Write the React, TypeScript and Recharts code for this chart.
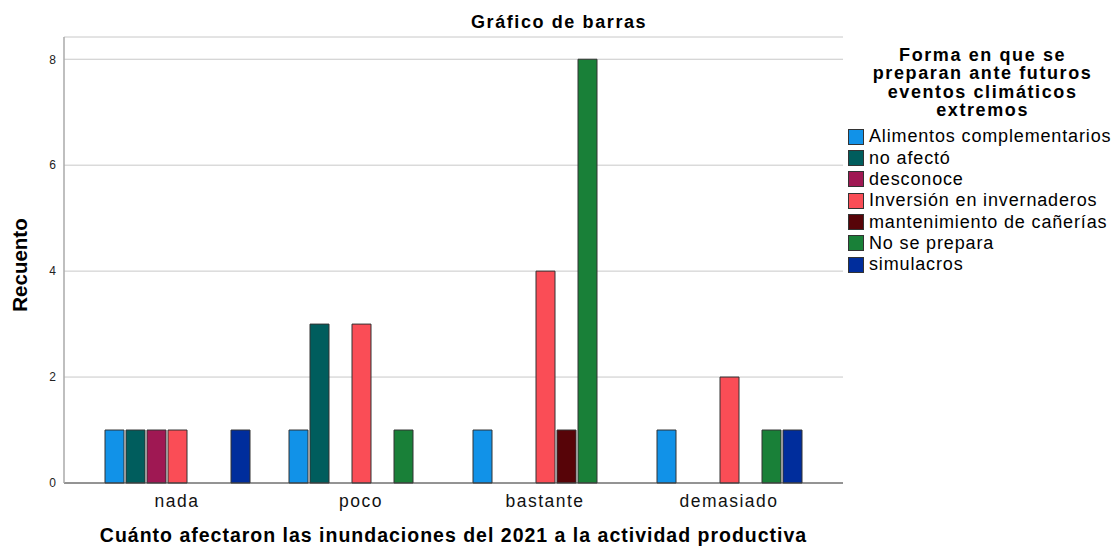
import React from 'react';
import { BarChart, Bar, XAxis, YAxis, CartesianGrid, Legend } from 'recharts';

const categories = ['nada', 'poco', 'bastante', 'demasiado'];
const seriesNames = [
  'Alimentos complementarios',
  'no afectó',
  'desconoce',
  'Inversión en invernaderos',
  'mantenimiento de cañerías',
  'No se prepara',
  'simulacros',
];
const seriesColors = ['#1192e8', '#005d5d', '#9f1853', '#fa4d56', '#570408', '#198038', '#002d9c'];
const alimentos = [1, 1, 1, 1];
const noAfecto = [1, 3, 0, 0];
const desconoce = [1, 0, 0, 0];
const inversion = [1, 3, 4, 2];
const mantenimiento = [0, 0, 1, 0];
const noSePrepara = [0, 1, 8, 1];
const simulacros = [1, 0, 0, 1];
const seriesValues = [alimentos, noAfecto, desconoce, inversion, mantenimiento, noSePrepara, simulacros];
const yTicks = [0, 2, 4, 6, 8];
const legendTitleLines = ['Forma en que se', 'preparan ante futuros', 'eventos climáticos', 'extremos'];

const data = categories.map((c, i) => {
  const row: Record<string, any> = { cat: c };
  seriesNames.forEach((s, j) => {
    const v = seriesValues[j][i];
    row[s] = v === 0 ? null : v;
  });
  return row;
});

const font = '"Liberation Sans", Arial, sans-serif';

const LegendContent = () => (
  <div style={{ fontFamily: font, color: '#000' }}>
    <div style={{ fontWeight: 'bold', fontSize: 18, lineHeight: '18.3px', letterSpacing: 1.6, textAlign: 'center', width: 266, paddingLeft: 1.6 }}>
      {legendTitleLines.map((l) => (
        <div key={l}>{l}</div>
      ))}
    </div>
    <div style={{ marginTop: 7 }}>
      {seriesNames.map((s, i) => (
        <div key={s} style={{ display: 'flex', alignItems: 'center', height: 21.3, whiteSpace: 'nowrap' }}>
          <div style={{ width: 16, height: 16, background: seriesColors[i], border: '1px solid #333', boxSizing: 'border-box', marginRight: 5 }} />
          <span style={{ fontSize: 18, letterSpacing: 0.85 }}>{s}</span>
        </div>
      ))}
    </div>
  </div>
);

const YTitle = () => (
  <text transform="translate(27,265) rotate(-90)" textAnchor="middle" fontFamily={font} fontWeight="bold" fontSize={20.5} fill="#000">
    Recuento
  </text>
);

export default function App() {
  return (
    <div style={{ position: 'absolute', left: 0, top: 0, width: 1115, height: 546, background: '#fff' }}>
      <div style={{ position: 'absolute', left: 0, width: 1115, top: 13, lineHeight: '18px', textAlign: 'center', fontFamily: font, fontWeight: 'bold', fontSize: 18, letterSpacing: 1.6, paddingLeft: 1.6 }}>
        Gráfico de barras
      </div>
      <BarChart
        width={1115}
        height={546}
        data={data}
        margin={{ top: 37, right: 272, bottom: 3, left: 14 }}
        barSize={19}
        barGap={2}
        style={{ fontFamily: font }}
      >
        <CartesianGrid horizontal vertical={false} stroke="#c8c8c8" />
        <XAxis
          dataKey="cat"
          height={60}
          padding={{ left: 21, right: 22 }}
          tickLine={false}
          axisLine={{ stroke: '#444' }}
          tick={{ fill: '#111', fontSize: 17.5, letterSpacing: 1.5 }}
          tickMargin={5.5}
          label={{ value: 'Cuánto afectaron las inundaciones del 2021 a la actividad productiva', position: 'insideBottom', offset: 1, fill: '#000', fontWeight: 'bold', fontSize: 19.5, letterSpacing: 1.0 }}
        />
        <YAxis
          width={50}
          domain={[0, 8.42]}
          ticks={yTicks}
          tickLine={false}
          tickSize={0}
          tickMargin={8}
          axisLine={{ stroke: '#aaa', strokeWidth: 1.5 }}
          tick={{ fill: '#222', fontSize: 12 }}
          label={<YTitle />}
        />
        <Legend
          layout="horizontal"
          verticalAlign="middle"
          align="center"
          content={<LegendContent />}
          wrapperStyle={{ left: 848, top: 46, width: 267, height: 240 }}
        />
        {seriesNames.map((s, i) => (
          <Bar key={s} dataKey={s} fill={seriesColors[i]} stroke="#333" strokeWidth={1} isAnimationActive={false} />
        ))}
      </BarChart>
    </div>
  );
}
